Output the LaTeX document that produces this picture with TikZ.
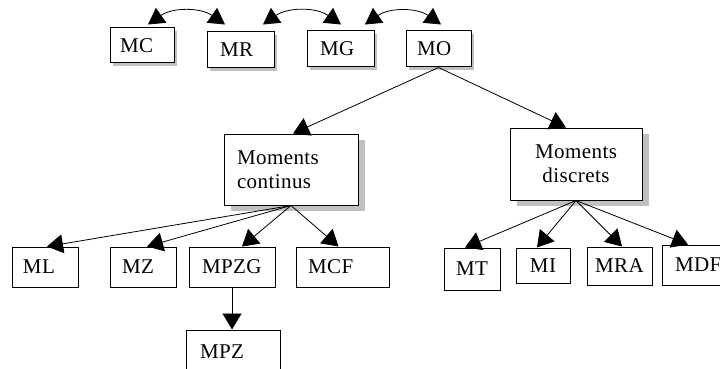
\documentclass[tikz,border=0pt]{standalone}
\usepackage{fontspec}
\setmainfont{Liberation Serif}[LetterSpace=2]
\usetikzlibrary{arrows.meta,shadows}
\definecolor{shadowgray}{HTML}{C0C0C0}
\begin{document}
\begin{tikzpicture}[x=1pt,y=-1pt,
  box/.style={draw=black, line width=1pt, fill=white, inner ysep=0pt,
    font=\fontsize{21}{24}\selectfont},
  lbox/.style={box, align=left},
  thinshadow/.style={general shadow={fill=shadowgray, shadow xshift=3pt, shadow yshift=-3pt}},
  bigshadow/.style={general shadow={fill=shadowgray, shadow xshift=7pt, shadow yshift=-6pt}},
  conn/.style={line width=0.8pt, -{Triangle[length=16pt,width=19pt]}},
  arcconn/.style={line width=0.8pt, {Triangle[length=16pt,width=18pt]}-{Triangle[length=16pt,width=18pt]}}
]
\useasboundingbox (0,0) rectangle (720,369);
\fill[white] (0,0) rectangle (720,369);

% top row
\node[lbox, thinshadow, text width=44pt, inner xsep=10pt, minimum height=35pt] (MC) at (142,45.5) {MC};
\node[lbox, thinshadow, text width=41pt, inner xsep=13pt, minimum height=36pt] (MR) at (240.5,50) {MR};
\node[lbox, thinshadow, text width=41pt, inner xsep=13pt, minimum height=36pt] (MG) at (340.5,49) {MG};
\node[lbox, thinshadow, text width=43pt, inner xsep=11pt, minimum height=36pt] (MO) at (438.5,49) {MO};

% middle
\node[lbox, bigshadow, text width=108pt, inner xsep=13pt, minimum height=71pt] (cont) at (291,169.5) {Moments\\continus};
\node[box, bigshadow, align=center, text width=112pt, inner xsep=10pt, minimum height=72pt] (disc) at (576,164) {Moments\\discrets};

% bottom left
\node[lbox, text width=44pt, inner xsep=11pt, minimum height=40pt] (ML) at (45,267) {ML};
\node[lbox, text width=42pt, inner xsep=12pt, minimum height=40pt] (MZ) at (143,267) {MZ};
\node[lbox, text width=60pt, inner xsep=13pt, minimum height=40pt] (MPZG) at (232,267) {MPZG};
\node[lbox, text width=69pt, inner xsep=12pt, minimum height=40pt] (MCF) at (342.5,267) {MCF};
\node[lbox, text width=66pt, inner xsep=14pt, minimum height=44pt] (MPZ) at (233,352) {MPZ};

% bottom right
\node[box, minimum width=56pt, minimum height=42pt] (MT) at (472,269) {MT};
\node[box, minimum width=54pt, minimum height=35pt] (MI) at (543,265.5) {MI};
\node[box, minimum width=65pt, minimum height=38pt] (MRA) at (619.5,266) {MRA};
\node[lbox, text width=52pt, inner xsep=13pt, minimum height=40pt] (MDF) at (701,265) {MDF};

% arcs between top boxes
\draw[arcconn] ([shift={(6,-3)}]MC.north) to[out=35,in=145] ([shift={(-15.5,-7)}]MR.north);
\draw[arcconn] ([shift={(22.5,-7)}]MR.north) to[out=35,in=145] ([shift={(0.5,-6)}]MG.north);
\draw[arcconn] ([shift={(24.5,-6)}]MG.north) to[out=35,in=145] ([shift={(2.5,-6)}]MO.north);

% tree connectors
\draw[conn] (MO.south) -- ([xshift=2pt]cont.north);
\draw[conn] (MO.south) -- ([xshift=-10pt]disc.north);

\draw[conn] (cont.south) -- ([xshift=2pt]ML.north);
\draw[conn] (cont.south) -- ([xshift=4pt]MZ.north);
\draw[conn] (cont.south) -- ([xshift=10pt]MPZG.north);
\draw[conn] (cont.south) -- ([xshift=-4pt]MCF.north);
\draw[conn] (MPZG.south) -- (MPZG.south |- MPZ.north);

\draw[conn] (disc.south) -- ([xshift=-7pt]MT.north);
\draw[conn] (disc.south) -- ([xshift=-6pt]MI.north);
\draw[conn] (disc.south) -- ([xshift=2.5pt]MRA.north);
\draw[conn] (disc.south) -- ([xshift=-13pt]MDF.north);
\end{tikzpicture}
\end{document}
